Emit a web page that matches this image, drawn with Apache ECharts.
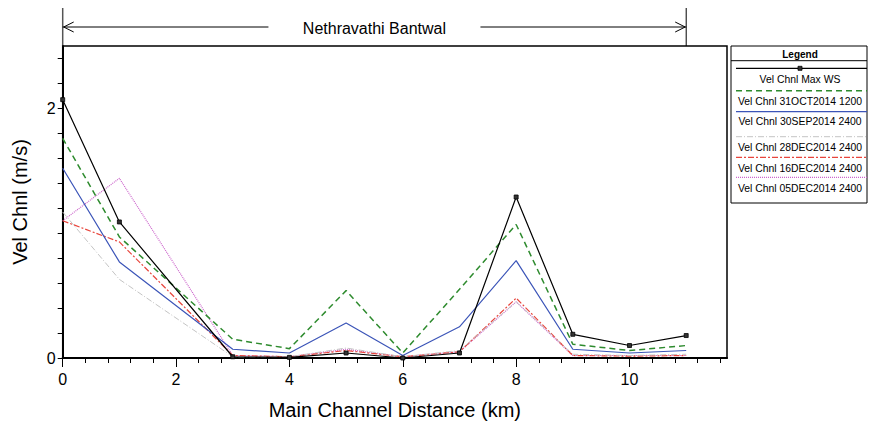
<!DOCTYPE html>
<html><head><meta charset="utf-8">
<script src="https://cdn.jsdelivr.net/npm/echarts@6/dist/echarts.min.js"></script>
<style>html,body{margin:0;padding:0;background:#fff}#c{width:871px;height:425px}</style>
</head><body><div id="c"></div>
<script>
const reachTitle = 'Nethravathi Bantwal';
const xAxisName = 'Main Channel Distance (km)';
const yAxisName = 'Vel Chnl (m/s)';
const distances = [0, 1, 3, 4, 5, 6, 7, 8, 9, 10, 11];
const seriesNames = [
  'Vel Chnl Max WS',
  'Vel Chnl 31OCT2014 1200',
  'Vel Chnl 30SEP2014 2400',
  'Vel Chnl 28DEC2014 2400',
  'Vel Chnl 16DEC2014 2400',
  'Vel Chnl 05DEC2014 2400'
];
const velMaxWS     = [2.07, 1.09, 0.01, 0.005, 0.04, 0.00, 0.04, 1.29, 0.19, 0.10, 0.18];
const vel31Oct1200 = [1.76, 0.97, 0.15, 0.075, 0.54, 0.04, 0.55, 1.07, 0.11, 0.06, 0.10];
const vel30Sep2400 = [1.52, 0.77, 0.07, 0.04, 0.28, 0.02, 0.25, 0.78, 0.07, 0.04, 0.06];
const vel28Dec2400 = [1.17, 0.63, 0.01, 0.01, 0.08, 0.01, 0.06, 0.45, 0.03, 0.02, 0.03];
const vel16Dec2400 = [1.10, 0.93, 0.02, 0.01, 0.06, 0.01, 0.05, 0.48, 0.02, 0.015, 0.02];
const vel05Dec2400 = [1.10, 1.44, 0.02, 0.01, 0.07, 0.01, 0.05, 0.45, 0.02, 0.02, 0.02];
const reachStartKm = 0;
const reachEndKm = 11;
const xMinorTicks = [0,0.4,0.8,1.2,1.6,2,2.4,2.8,3.2,3.6,4,4.4,4.8,5.2,5.6,6,6.4,6.8,7.2,7.6,8,8.4,8.8,9.2,9.6,10,10.4,10.8,11.2,11.6];
const xMajorTicks = [0, 2, 4, 6, 8, 10];
const yMinorTicks = [0,0.2,0.4,0.6,0.8,1,1.2,1.4,1.6,1.8,2,2.2,2.4];
const yLabelTicks = [0, 2];

const seriesData = [velMaxWS, vel31Oct1200, vel30Sep2400, vel28Dec2400, vel16Dec2400, vel05Dec2400];
const styles = [
  {color:'#000000', width:1.2, type:'solid'},
  {color:'#2e8b2e', width:1.5, type:[6,4]},
  {color:'#3c55b8', width:1.2, type:'solid'},
  {color:'#c4c4c4', width:1, type:[6,2,1,2]},
  {color:'#e8453c', width:1.2, type:[6,2,2,2]},
  {color:'#cc66cc', width:1.2, type:[1,1]}
];
const FONT = 'Liberation Sans, Arial, sans-serif';

const chart = echarts.init(document.getElementById('c'), null, {renderer:'svg'});
const series = [];
for (let i = seriesData.length - 1; i >= 0; i--) {
  series.push({
    name: seriesNames[i], type:'line', xAxisIndex:0, yAxisIndex:0,
    data: distances.map((d, k) => [d, seriesData[i][k]]),
    symbol: i === 0 ? 'rect' : 'none', symbolSize: 4, showSymbol: i === 0,
    itemStyle: {color: i === 0 ? '#333' : styles[i].color, borderColor:'#000', borderWidth: 0.8},
    lineStyle: {color: styles[i].color, width: styles[i].width, type: styles[i].type},
    animation:false, silent:true, z: 2
  });
}
const xMin = 0, xMax = 11.72;
chart.setOption({
  animation:false,
  backgroundColor:'#fff',
  grid:{left:62.7, top:46, right:144, bottom:66.7, show:true, borderColor:'#000', borderWidth:1.5, backgroundColor:'transparent'},
  xAxis:[{
    type:'value', min:xMin, max:xMax, position:'bottom',
    name:xAxisName, nameLocation:'middle', nameGap:42,
    nameTextStyle:{fontFamily:FONT, fontSize:20, color:'#000'},
    axisLine:{show:true, onZero:false, lineStyle:{color:'#000', width:2}},
    axisTick:{show:true, length:5, customValues:xMinorTicks, lineStyle:{color:'#000', width:1}},
    axisLabel:{show:true, customValues:xMajorTicks, margin:13, fontFamily:FONT, fontSize:16, color:'#000'},
    splitLine:{show:false}
  },{
    type:'value', min:xMin, max:xMax, position:'bottom', offset:0,
    axisLine:{show:false},
    axisTick:{show:true, length:9, customValues:xMajorTicks, lineStyle:{color:'#000', width:1}},
    axisLabel:{show:false}, splitLine:{show:false}
  }],
  yAxis:[{
    type:'value', min:0, max:2.5,
    name:yAxisName, nameLocation:'middle', nameGap:33,
    nameTextStyle:{fontFamily:FONT, fontSize:20, color:'#000'},
    axisLine:{show:true, onZero:false, lineStyle:{color:'#000', width:2}},
    axisTick:{show:true, length:5, customValues:yMinorTicks, lineStyle:{color:'#000', width:1}},
    axisLabel:{show:true, customValues:yLabelTicks, margin:7, fontFamily:FONT, fontSize:16, color:'#000'},
    splitLine:{show:false}
  }],
  series: series
});

// Reach annotation (arrow spanning the reach) and legend box
const px0 = chart.convertToPixel({xAxisIndex:0}, reachStartKm);
const px1 = chart.convertToPixel({xAxisIndex:0}, reachEndKm);
const gridTop = 46, arrowY = 27, topY = 8;
const midX = (px0 + px1) / 2;
const gap = 106;
const g = [];
const ls = {stroke:'#000', lineWidth:1};
g.push({type:'line', shape:{x1:px0, y1:topY, x2:px0, y2:gridTop}, style:{stroke:'#555', lineWidth:1.5}, silent:true});
g.push({type:'line', shape:{x1:px1, y1:topY, x2:px1, y2:gridTop}, style:ls, silent:true});
g.push({type:'line', shape:{x1:px0, y1:arrowY, x2:midX - gap, y2:arrowY}, style:ls, silent:true});
g.push({type:'line', shape:{x1:midX + gap, y1:arrowY, x2:px1, y2:arrowY}, style:ls, silent:true});
g.push({type:'polyline', shape:{points:[[px0+11, arrowY-5],[px0+1, arrowY],[px0+11, arrowY+5]]}, style:{stroke:'#000', lineWidth:1, fill:null}, silent:true});
g.push({type:'polyline', shape:{points:[[px1-11, arrowY-5],[px1-1, arrowY],[px1-11, arrowY+5]]}, style:{stroke:'#000', lineWidth:1, fill:null}, silent:true});
g.push({type:'text', x:midX, y:arrowY + 1, style:{text:reachTitle, fontFamily:FONT, fontSize:16, fill:'#000', align:'center', verticalAlign:'middle'}, silent:true});

// legend
const lx = 731, ly = 46, lw = 136, lh = 157, lcx = 800;
g.push({type:'rect', shape:{x:lx, y:ly, width:lw, height:lh}, style:{stroke:'#000', lineWidth:1, fill:'#fff'}, silent:true});
g.push({type:'text', x:lcx, y:54, style:{text:'Legend', fontFamily:FONT, fontSize:10, fontWeight:'bold', fill:'#000', align:'center', verticalAlign:'middle'}, silent:true});
g.push({type:'line', shape:{x1:lx, y1:60.7, x2:lx+lw, y2:60.7}, style:ls, silent:true});
const lineYs = [68.3, 90.7, 111.7, 136.7, 157.3, 177.3];
const textYs = [79, 101, 121.7, 147.3, 168.3, 188.3];
for (let i = 0; i < seriesNames.length; i++) {
  const st = styles[i];
  g.push({type:'line', shape:{x1:lx+5, y1:lineYs[i], x2:lx+lw, y2:lineYs[i]},
    style:{stroke:st.color, lineWidth:st.width, lineDash: st.type === 'solid' ? null : st.type}, silent:true});
  if (i === 0) g.push({type:'rect', shape:{x:lcx-2, y:lineYs[i]-2, width:4, height:4}, style:{fill:'#333', stroke:'#000', lineWidth:0.8}, silent:true});
  g.push({type:'text', x:lcx, y:textYs[i], style:{text:seriesNames[i], fontFamily:FONT, fontSize:10.4, fill:'#000', align:'center', verticalAlign:'middle'}, silent:true});
}
chart.setOption({graphic:{elements:g}});
</script>
</body></html>
